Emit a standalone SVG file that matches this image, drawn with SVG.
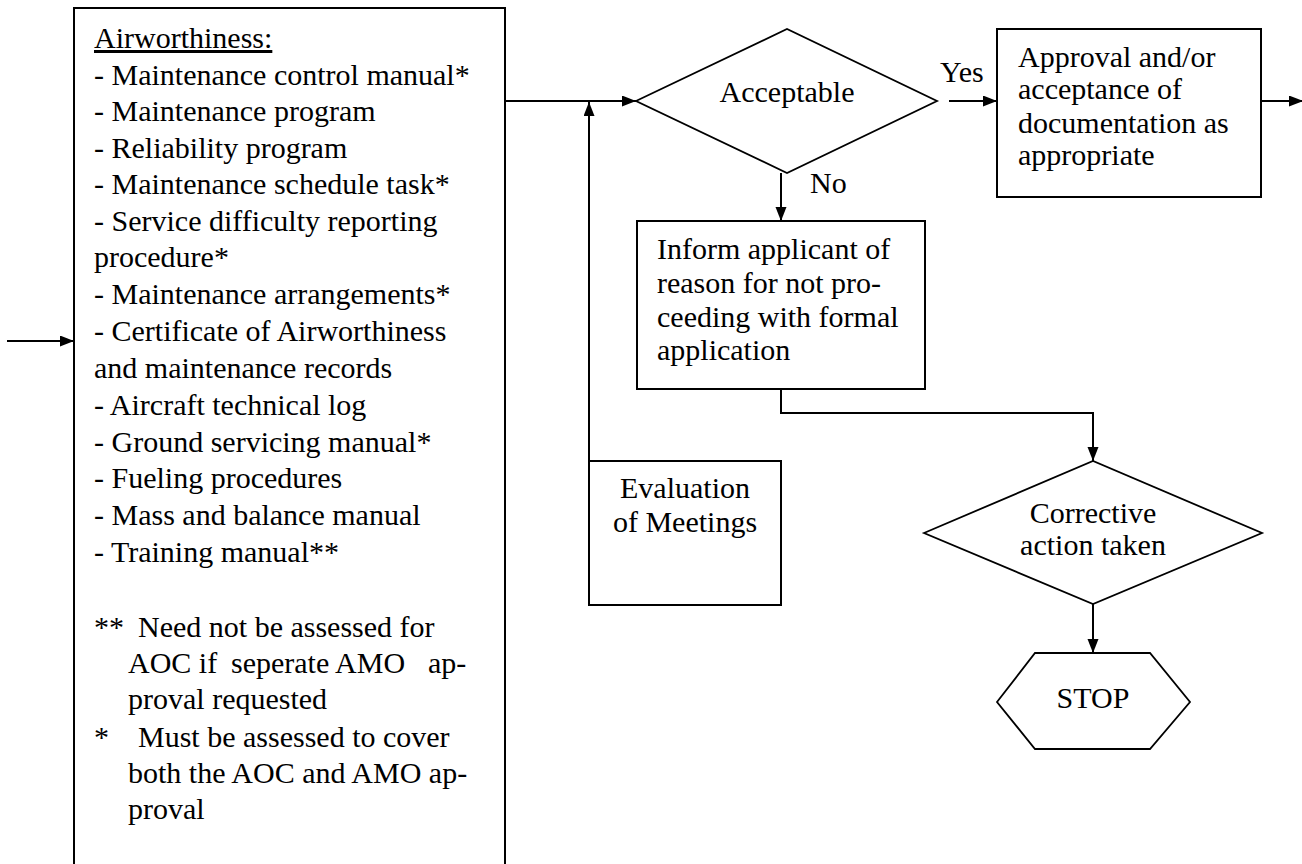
<svg xmlns="http://www.w3.org/2000/svg" width="1302" height="864" viewBox="0 0 1302 864" font-family="'Liberation Serif', 'Times New Roman', 'DejaVu Serif', serif">
<style>
  text { font-family: 'Liberation Serif', 'Times New Roman', 'DejaVu Serif', serif; fill: #000; font-size: 30px; }
  .box { fill: #fff; stroke: #000; stroke-width: 2; }
  .shape { fill: #fff; stroke: #000; stroke-width: 1.8; }
  .conn { fill: none; stroke: #000; stroke-width: 2; }
  .mid { text-anchor: middle; }
</style>
<defs>
  <marker id="arr" markerUnits="userSpaceOnUse" markerWidth="15" markerHeight="12" refX="14" refY="5.5" orient="auto">
    <path d="M0,0 L14,5.5 L0,11 z" fill="#000"/>
  </marker>
</defs>
<rect width="1302" height="864" fill="#fff"/>

<g id="connectors">
  <line class="conn" x1="7" y1="341" x2="74" y2="341" marker-end="url(#arr)"/>
  <line class="conn" x1="505" y1="101" x2="636" y2="101" marker-end="url(#arr)"/>
  <line class="conn" x1="589" y1="461" x2="589" y2="102" marker-end="url(#arr)"/>
  <line class="conn" x1="949" y1="101" x2="997" y2="101" marker-end="url(#arr)"/>
  <line class="conn" x1="1261" y1="101" x2="1303" y2="101" marker-end="url(#arr)"/>
  <line class="conn" x1="781" y1="173" x2="781" y2="221" marker-end="url(#arr)"/>
  <path class="conn" d="M781,389 V413 H1093 V461" marker-end="url(#arr)"/>
  <line class="conn" x1="1093" y1="604" x2="1093" y2="653" marker-end="url(#arr)"/>
  <text x="940" y="82" font-size="29">Yes</text>
  <text x="810" y="193" font-size="29">No</text>
</g>

<g id="airworthiness">
  <rect class="box" x="74" y="8" width="431" height="870"/>
  <text x="94" y="48" text-decoration="underline">Airworthiness:</text>
  <text x="94" y="85">- Maintenance control manual*</text>
  <text x="94" y="121">- Maintenance program</text>
  <text x="94" y="158">- Reliability program</text>
  <text x="94" y="194">- Maintenance schedule task*</text>
  <text x="94" y="231">- Service difficulty reporting</text>
  <text x="94" y="267">procedure*</text>
  <text x="94" y="304">- Maintenance arrangements*</text>
  <text x="94" y="341">- Certificate of Airworthiness</text>
  <text x="94" y="378">and maintenance records</text>
  <text x="94" y="415">- Aircraft technical log</text>
  <text x="94" y="452">- Ground servicing manual*</text>
  <text x="94" y="488">- Fueling procedures</text>
  <text x="94" y="525">- Mass and balance manual</text>
  <text x="94" y="562">- Training manual**</text>
  <text x="94" y="637">**</text>
  <text x="138" y="637">Need not be assessed for</text>
  <text x="128" y="673">AOC if <tspan x="231">seperate AMO</tspan><tspan x="428">ap-</tspan></text>
  <text x="128" y="709">proval requested</text>
  <text x="94" y="747">*</text>
  <text x="138" y="747">Must be assessed to cover</text>
  <text x="128" y="783">both the AOC and AMO ap-</text>
  <text x="128" y="819">proval</text>
</g>

<g id="acceptable">
  <polygon class="shape" points="636,101 787,29 937,101 787,173"/>
  <text class="mid" x="787" y="102">Acceptable</text>
</g>

<g id="approval">
  <rect class="box" x="997" y="29" width="264" height="168"/>
  <text x="1018" y="67" font-size="29.5">Approval and/or</text>
  <text x="1018" y="99" font-size="29.5">acceptance of</text>
  <text x="1018" y="133" font-size="29.5">documentation as</text>
  <text x="1018" y="165" font-size="29.5">appropriate</text>
</g>

<g id="inform">
  <rect class="box" x="637" y="221" width="288" height="168"/>
  <text x="657" y="259" font-size="29.5">Inform applicant of</text>
  <text x="657" y="293" font-size="29.5">reason for not pro-</text>
  <text x="657" y="327" font-size="29.5">ceeding with formal</text>
  <text x="657" y="360" font-size="29.5">application</text>
</g>

<g id="evaluation">
  <rect class="box" x="589" y="461" width="192" height="144"/>
  <text class="mid" x="685" y="498" font-size="29.5">Evaluation</text>
  <text class="mid" x="685" y="532" font-size="29.5">of Meetings</text>
</g>

<g id="corrective">
  <polygon class="shape" points="924,533 1093,461 1262,533 1093,604"/>
  <text class="mid" x="1093" y="523" font-size="28">Corrective</text>
  <text class="mid" x="1093" y="555" font-size="28">action taken</text>
</g>

<g id="stop">
  <polygon class="shape" points="997,702 1035,653 1150,653 1190,702 1150,749 1035,749"/>
  <text class="mid" x="1093" y="708" font-size="28">STOP</text>
</g>
</svg>
